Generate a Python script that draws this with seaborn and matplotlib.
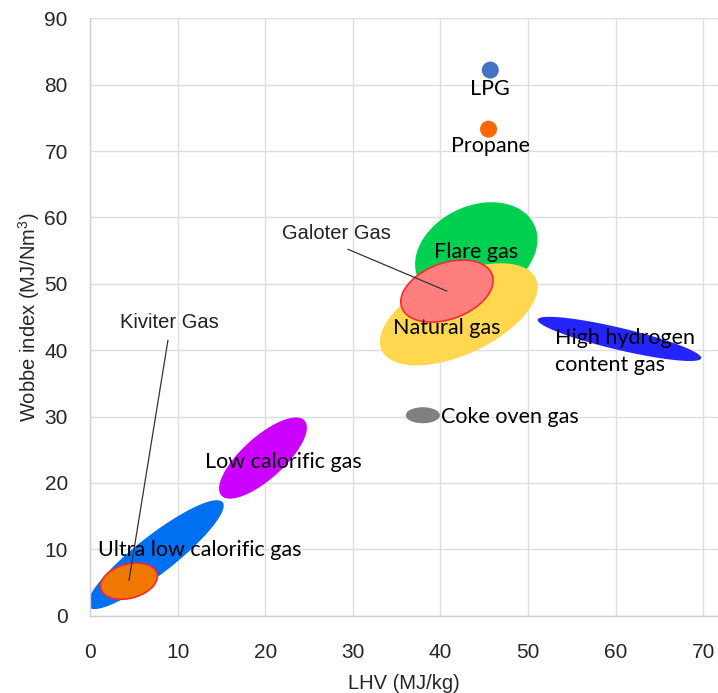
import matplotlib
matplotlib.use("Agg")
import matplotlib.pyplot as plt
import numpy as np
import pandas as pd
import seaborn as sns

# gas regions: centre (LHV, Wobbe), semi-axes in screen px, tilt in screen degrees
region_names = ["Ultra low calorific gas", "Low calorific gas", "Flare gas", "Natural gas",
                "High hydrogen content gas", "Coke oven gas", "Kiviter Gas", "Galoter Gas"]
region_lhv = [7.5, 19.75, 44.1, 42.1, 60.45, 38.0, 4.45, 40.75]
region_wobbe = [9.2, 23.75, 54.8, 45.4, 41.7, 30.2, 5.2, 48.9]
region_a = [85, 56, 64, 85, 84, 17, 29, 48]
region_b = [19, 21, 46, 40, 11, 8, 17, 28]
region_tilt = [38, 42, 25, 25, -13.3, 0, 15, 20]
region_colors = ["#0070F2", "#CC00FF", "#00D050", "#FFD850", "#2424FF", "#808080", "#F07800", "#FF7F7F"]
region_edges = [None, None, None, None, None, None, "#FF2A2A", "#FF2A2A"]

# single fuels
fuel_names = ["LPG", "Propane"]
fuel_lhv = [45.7, 45.5]
fuel_wobbe = [82.2, 73.3]
fuel_colors = ["#4472C4", "#FF6600"]

# text labels
label_text = ["Ultra low calorific gas", "Low calorific gas", "Flare gas", "Natural gas",
              "High hydrogen\ncontent gas", "Coke oven gas", "LPG", "Propane"]
label_x = [0.95, 13.1, 44.1, 40.7, 53.1, 40.1, 45.7, 45.7]
label_y = [9.9, 23.2, 54.8, 43.3, 39.8, 30.0, 79.3, 70.8]
label_ha = ["left", "left", "center", "center", "left", "left", "center", "center"]

# callouts: (text, text pos, line start, line end)
callout_text = ["Kiviter Gas", "Galoter Gas"]
callout_pos = [(9.1, 44.1), (28.1, 57.6)]
callout_from = [(8.9, 41.5), (29.45, 55.2)]
callout_to = [(4.45, 5.3), (40.75, 48.9)]

sns.set_theme(style="whitegrid")
plt.rcParams["font.family"] = ["Liberation Sans", "DejaVu Sans"]
plt.rcParams["mathtext.default"] = "regular"

fig = plt.figure(figsize=(7.18, 6.93), dpi=100)
ax = fig.add_axes([90 / 718, 77.3 / 693, 628 / 718, 597.4 / 693])
ax.set_xlim(0, 71.7)
ax.set_ylim(0, 90)

# px per data unit, from the axes geometry
bbox = ax.get_window_extent()
px_x = bbox.width / 71.7
px_y = bbox.height / 90


def ellipse_xy(cx, cy, a, b, tilt):
    t = np.linspace(0, 2 * np.pi, 240)
    th = np.deg2rad(tilt)
    u = a * np.cos(t) * np.cos(th) - b * np.sin(t) * np.sin(th)
    v = a * np.cos(t) * np.sin(th) + b * np.sin(t) * np.cos(th)
    return cx + u / px_x, cy + v / px_y


for i in range(len(region_names)):
    xs, ys = ellipse_xy(region_lhv[i], region_wobbe[i], region_a[i], region_b[i], region_tilt[i])
    if region_edges[i]:
        ax.fill(xs, ys, facecolor=region_colors[i], edgecolor=region_edges[i], lw=1.2, zorder=2 + i)
    else:
        ax.fill(xs, ys, facecolor=region_colors[i], edgecolor="none", zorder=2 + i)

df = pd.DataFrame({"LHV": fuel_lhv, "Wobbe": fuel_wobbe, "fuel": fuel_names})
sns.scatterplot(data=df, x="LHV", y="Wobbe", hue="fuel", palette=fuel_colors, s=150,
                edgecolor="none", legend=False, ax=ax, zorder=12)

lab_font = ["Lato", "DejaVu Sans"]
for t, x, y, ha in zip(label_text, label_x, label_y, label_ha):
    ax.text(x, y, t, ha=ha, va="center", fontsize=15.5, family=lab_font, color="black",
            linespacing=1.4, zorder=15)

for t, p, a, b in zip(callout_text, callout_pos, callout_from, callout_to):
    ax.text(p[0], p[1], t, ha="center", va="center", fontsize=14.5, color="#222222", zorder=15)
    ax.plot([a[0], b[0]], [a[1], b[1]], color="#333333", lw=0.9, zorder=14)

ax.set_xticks(np.arange(0, 80, 10))
ax.set_yticks(np.arange(0, 100, 10))
ax.tick_params(axis="y", labelsize=15, length=0, pad=16)
ax.tick_params(axis="x", labelsize=15, length=0, pad=20)
ax.grid(True, color="#DEDEDE", lw=1)
for side in ["top", "right"]:
    ax.spines[side].set_visible(False)
for side in ["left", "bottom"]:
    ax.spines[side].set_color("#D0D0D0")
    ax.spines[side].set_linewidth(1)
ax.set_xlabel("LHV (MJ/kg)", fontsize=14.5, labelpad=8)
ax.set_ylabel("Wobbe index (MJ/Nm$^3$)", fontsize=14.5, labelpad=2)

fig.savefig("out.png", dpi=100)
